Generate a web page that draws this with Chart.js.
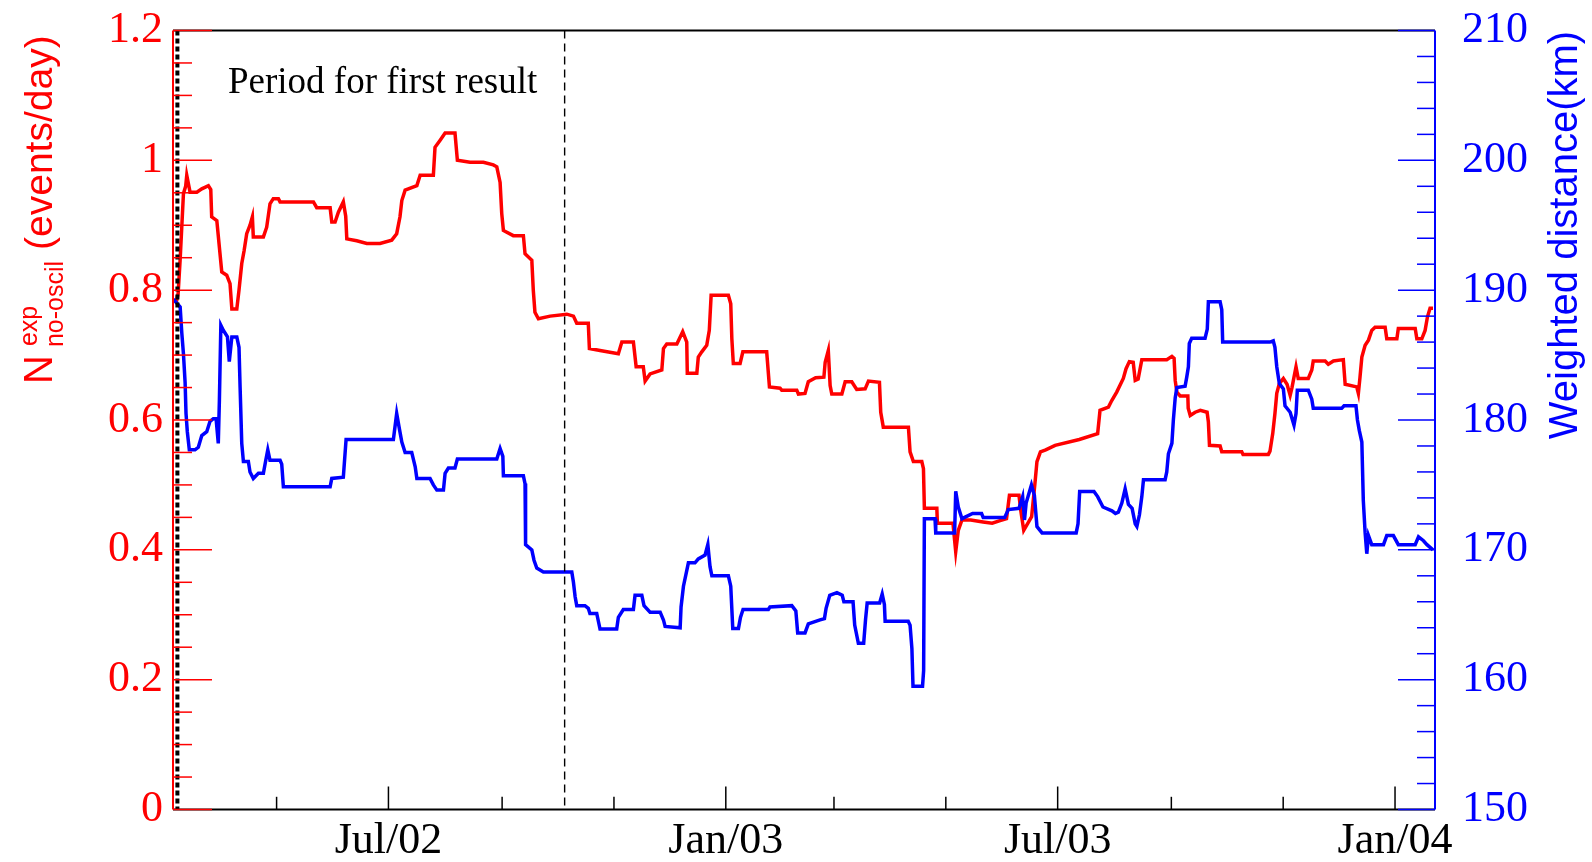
<!DOCTYPE html>
<html>
<head>
<meta charset="utf-8">
<script src="https://cdn.jsdelivr.net/npm/chart.js@4.4.0/dist/chart.umd.min.js"></script>
<style>
  html, body { margin: 0; padding: 0; background: #ffffff; }
  #wrap { width: 1592px; height: 862px; position: relative; }
</style>
</head>
<body>
<div id="wrap"><canvas id="c" width="1592" height="862"></canvas></div>
<script>
// Time axis: days counted from 1 Jan 2002.
const dayMin = 63.5;
const dayMax = 751.8;

// Expected no-oscillation event rate (events/day)
const rateDays = [
  65.2, 66.3, 67.4, 69.2, 70.4, 71.0, 72.8, 76.5, 79.2, 82.8, 84.1, 84.6, 87.4, 88.8, 90.1, 92.8,
  94.6, 95.6, 98.3, 99.5, 101.0, 102.3, 103.7, 105.5, 106.8, 107.3, 112.8, 114.6, 116.4, 118.2, 121.0, 121.9,
  140.1, 141.9, 149.2, 150.1, 151.9, 153.7, 156.4, 157.7, 158.3, 163.7, 169.2, 176.4, 182.8, 185.5, 187.3, 188.3,
  190.1, 196.5, 198.3, 205.5, 206.4, 209.2, 211.9, 217.3, 218.6, 225.5, 232.8, 238.2, 240.1, 241.9, 242.8, 243.7,
  249.1, 254.6, 255.5, 259.2, 260.0, 260.9, 262.8, 269.2, 278.3, 281.9, 283.7, 290.0, 290.6, 296.4, 306.4, 308.3,
  314.6, 316.1, 320.0, 321.0, 323.7, 330.1, 331.0, 332.8, 338.3, 341.5, 343.7, 344.0, 349.2, 350.0, 351.9, 354.6,
  356.0, 357.0, 366.4, 367.7, 368.3, 369.1, 372.8, 374.3, 387.3, 388.8, 394.6, 395.5, 403.7, 404.6, 408.2, 410.0,
  414.0, 418.5, 419.2, 420.9, 421.9, 422.8, 428.3, 430.1, 433.7, 436.4, 441.0, 442.8, 448.8, 449.5, 450.9, 464.6,
  465.5, 467.3, 471.9, 472.8, 473.3, 480.1, 480.4, 488.9, 490.4, 491.8, 493.8, 498.6, 505.3, 510.3, 514.6, 518.1,
  519.7, 524.9, 525.9, 527.5, 531.8, 533.7, 534.7, 536.6, 539.5, 544.6, 557.8, 567.8, 569.1, 573.7, 575.5, 578.2,
  581.8, 583.3, 585.1, 587.2, 588.3, 589.9, 591.9, 605.5, 608.3, 609.5, 610.1, 611.0, 612.8, 617.0, 617.2, 618.3,
  621.0, 623.8, 627.5, 628.2, 628.8, 634.6, 635.5, 646.4, 647.1, 660.9, 661.8, 663.3, 664.5, 665.5, 666.9, 669.1,
  671.1, 672.8, 673.8, 674.9, 676.0, 677.2, 682.7, 684.6, 685.4, 691.9, 693.6, 696.4, 701.8, 702.8, 709.1, 710.0,
  710.9, 711.9, 713.7, 715.5, 717.3, 719.1, 724.6, 725.5, 731.0, 731.8, 741.0, 741.9, 744.6, 746.4, 747.7, 749.1,
  750.7
];
const rateValues = [
  0.780, 0.795, 0.847, 0.949, 0.960, 0.977, 0.951, 0.951, 0.956, 0.961, 0.955, 0.913, 0.907, 0.866, 0.828, 0.823,
  0.810, 0.771, 0.771, 0.800, 0.841, 0.861, 0.887, 0.900, 0.913, 0.882, 0.882, 0.897, 0.933, 0.941, 0.941, 0.936,
  0.936, 0.927, 0.927, 0.905, 0.905, 0.920, 0.936, 0.914, 0.879, 0.876, 0.872, 0.872, 0.877, 0.887, 0.913, 0.938,
  0.954, 0.961, 0.977, 0.977, 1.020, 1.031, 1.042, 1.042, 1.000, 0.997, 0.997, 0.993, 0.990, 0.966, 0.918, 0.892,
  0.884, 0.884, 0.856, 0.846, 0.800, 0.766, 0.756, 0.760, 0.763, 0.760, 0.749, 0.749, 0.710, 0.707, 0.702, 0.720,
  0.720, 0.682, 0.682, 0.660, 0.671, 0.677, 0.710, 0.717, 0.717, 0.736, 0.720, 0.672, 0.672, 0.697, 0.705, 0.715,
  0.738, 0.792, 0.792, 0.779, 0.725, 0.687, 0.687, 0.705, 0.705, 0.651, 0.649, 0.646, 0.646, 0.640, 0.641, 0.659,
  0.665, 0.666, 0.689, 0.707, 0.653, 0.640, 0.640, 0.659, 0.659, 0.647, 0.648, 0.660, 0.658, 0.612, 0.589, 0.589,
  0.551, 0.536, 0.536, 0.525, 0.464, 0.464, 0.441, 0.441, 0.397, 0.430, 0.446, 0.446, 0.443, 0.441, 0.445, 0.448,
  0.484, 0.484, 0.460, 0.430, 0.451, 0.505, 0.536, 0.551, 0.554, 0.561, 0.570, 0.579, 0.615, 0.620, 0.630, 0.643,
  0.664, 0.679, 0.690, 0.689, 0.661, 0.663, 0.693, 0.693, 0.698, 0.695, 0.661, 0.643, 0.637, 0.637, 0.618, 0.607,
  0.612, 0.615, 0.612, 0.597, 0.561, 0.560, 0.551, 0.551, 0.547, 0.547, 0.552, 0.579, 0.610, 0.641, 0.656, 0.664,
  0.655, 0.638, 0.650, 0.666, 0.682, 0.664, 0.664, 0.677, 0.691, 0.691, 0.686, 0.691, 0.693, 0.655, 0.651, 0.641,
  0.666, 0.697, 0.715, 0.723, 0.738, 0.743, 0.743, 0.725, 0.725, 0.741, 0.741, 0.725, 0.725, 0.738, 0.759, 0.772,
  0.772
];

// Flux-weighted reactor distance (km)
const distDays = [
  63.7, 67.4, 68.3, 69.2, 70.1, 70.6, 71.3, 72.4, 75.5, 77.3, 79.2, 81.9, 83.7, 85.5, 87.0, 88.2,
  88.8, 89.6, 91.0, 93.2, 94.2, 95.6, 98.3, 99.5, 100.1, 101.0, 101.9, 104.6, 105.5, 107.3, 110.1, 112.8,
  114.1, 115.2, 116.4, 121.9, 122.8, 123.7, 149.2, 150.1, 156.4, 157.9, 183.7, 185.5, 187.0, 188.3, 190.1, 193.7,
  195.6, 196.5, 203.7, 205.5, 207.4, 211.0, 211.9, 213.7, 217.3, 218.6, 240.1, 241.9, 243.4, 243.7, 254.6, 255.5,
  255.8, 259.2, 260.4, 261.9, 265.5, 281.0, 281.9, 282.8, 283.7, 288.2, 290.0, 290.9, 294.6, 295.5, 296.4, 305.5,
  306.4, 309.1, 314.6, 315.5, 319.2, 320.4, 323.7, 329.2, 331.0, 331.9, 340.1, 340.6, 341.9, 344.6, 348.2, 350.0,
  353.7, 355.2, 356.4, 357.4, 366.4, 367.7, 368.8, 371.9, 373.0, 374.4, 388.2, 389.1, 401.0, 403.2, 404.2, 408.2,
  410.0, 416.4, 418.8, 419.7, 421.7, 425.6, 428.5, 429.4, 434.4, 435.3, 437.3, 440.2, 441.2, 442.1, 448.9, 450.3,
  451.5, 451.9, 464.5, 465.5, 466.5, 467.1, 472.3, 472.9, 473.3, 479.1, 479.5, 489.8, 490.4, 491.8, 493.8, 499.6,
  504.5, 505.4, 517.1, 519.1, 524.9, 526.9, 527.9, 528.8, 531.7, 533.3, 534.7, 537.5, 556.1, 557.1, 558.0, 565.8,
  567.8, 570.7, 575.6, 577.5, 579.1, 581.0, 582.8, 584.6, 586.6, 588.3, 589.2, 590.6, 591.9, 592.8, 604.6, 605.5,
  606.4, 608.3, 609.1, 610.1, 611.0, 615.5, 616.4, 617.3, 617.8, 619.1, 626.4, 627.6, 628.2, 634.6, 635.5, 636.0,
  661.8, 663.6, 664.5, 665.5, 666.9, 669.1, 670.0, 672.8, 674.9, 676.0, 676.7, 682.7, 684.6, 685.4, 700.9, 702.2,
  708.7, 709.5, 710.5, 711.9, 712.7, 713.7, 714.6, 715.5, 717.3, 723.7, 725.5, 729.1, 731.8, 741.0, 742.8, 745.5,
  747.4, 750.7
];
const distValues = [
  189.3, 188.7, 186.7, 185.1, 182.9, 180.5, 179.1, 177.7, 177.7, 177.9, 178.8, 179.1, 179.9, 180.1, 180.1, 178.2,
  181.5, 187.3, 186.9, 186.4, 184.5, 186.4, 186.4, 185.6, 182.5, 178.2, 176.8, 176.8, 176.0, 175.5, 175.9, 175.9,
  176.9, 177.7, 176.9, 176.9, 176.6, 174.85, 174.85, 175.5, 175.6, 178.5, 178.5, 180.5, 179.3, 178.3, 177.5, 177.5,
  176.4, 175.5, 175.5, 175.0, 174.6, 174.6, 175.9, 176.3, 176.3, 177.0, 177.0, 177.8, 177.2, 175.7, 175.7, 175.1,
  170.4, 170.0, 169.2, 168.6, 168.3, 168.3, 167.5, 166.4, 165.7, 165.7, 165.5, 165.1, 165.1, 164.5, 163.9, 163.9,
  164.8, 165.4, 165.4, 166.5, 166.5, 165.7, 165.2, 165.2, 164.6, 164.1, 164.0, 165.6, 167.2, 169.0, 169.0, 169.3,
  169.6, 170.4, 168.7, 168.0, 168.0, 167.2, 163.95, 163.95, 164.8, 165.4, 165.4, 165.6, 165.7, 165.3, 163.6, 163.6,
  164.3, 164.6, 164.7, 165.5, 166.5, 166.7, 166.5, 166.0, 166.0, 164.2, 162.8, 162.8, 164.6, 165.9, 165.9, 166.6,
  165.8, 164.5, 164.5, 164.2, 162.4, 159.5, 159.5, 160.7, 172.4, 172.4, 171.3, 171.3, 174.5, 173.3, 172.4, 172.8,
  172.8, 172.5, 172.5, 173.1, 173.2, 174.1, 172.3, 173.6, 175.0, 174.2, 171.8, 171.3, 171.3, 172.0, 174.5, 174.5,
  174.1, 173.3, 173.0, 172.8, 172.9, 173.6, 174.7, 173.5, 173.2, 172.0, 171.8, 172.7, 174.1, 175.4, 175.4, 176.0,
  177.4, 178.2, 180.0, 181.7, 182.5, 182.6, 183.3, 184.1, 185.9, 186.3, 186.3, 187.0, 189.1, 189.1, 188.5, 186.0,
  186.0, 186.1, 185.6, 184.1, 182.8, 182.4, 181.1, 180.6, 179.6, 180.5, 182.3, 182.3, 181.6, 180.9, 180.9, 181.1,
  181.1, 180.0, 179.2, 178.3, 173.8, 171.3, 169.7, 171.1, 170.4, 170.4, 171.1, 171.1, 170.4, 170.4, 171.0, 170.7,
  170.4, 170.0
];

// Axis ticks
const monthTicks = [181, 365, 546, 730];
const monthLabels = ['Jul/02', 'Jan/03', 'Jul/03', 'Jan/04'];
const minorMonthTicks = [120, 243, 304, 424, 485, 608, 669];
const rateTicks = [0, 0.2, 0.4, 0.6, 0.8, 1, 1.2];
const rateTickLabels = ['0', '0.2', '0.4', '0.6', '0.8', '1', '1.2'];
const distTicks = [150, 160, 170, 180, 190, 200, 210];

// Data-taking start and end of the first-result period
const periodMarks = [65.9, 277.1];
const periodLabel = 'Period for first result';

const RED = '#ff0000';
const BLUE = '#0000ff';
const SERIF = "'Liberation Serif', 'Times New Roman', serif";
const SANS = "'Liberation Sans', Arial, sans-serif";

function toPoints(xs, ys) {
  return xs.map((x, i) => ({ x: x, y: ys[i] }));
}

function seg(ctx, x1, y1, x2, y2) {
  ctx.beginPath();
  ctx.moveTo(x1, y1);
  ctx.lineTo(x2, y2);
  ctx.stroke();
}

// keep the plot frame fixed: no extra room reserved for edge labels
function noEdgePadding(s) {
  s.paddingTop = 0;
  s.paddingBottom = 0;
  s.paddingLeft = 0;
  s.paddingRight = 0;
}

const framePlugin = {
  id: 'frame',
  afterDatasetsDraw(chart) {
    const { ctx, chartArea: a, scales } = chart;
    const sx = scales.x, sl = scales.yL, sr = scales.yR;
    ctx.save();

    // period markers
    ctx.strokeStyle = '#000';
    ctx.setLineDash([5, 3]);
    ctx.lineWidth = 4;
    let px = sx.getPixelForValue(periodMarks[0]);
    seg(ctx, px, a.top, px, a.bottom);
    ctx.setLineDash([8, 5]);
    ctx.lineWidth = 1.4;
    px = sx.getPixelForValue(periodMarks[1]);
    seg(ctx, px, a.top, px, a.bottom);
    ctx.setLineDash([]);

    // black frame top and bottom
    ctx.strokeStyle = '#000';
    ctx.lineWidth = 2;
    seg(ctx, a.left, a.top, a.right, a.top);
    seg(ctx, a.left, a.bottom, a.right, a.bottom);

    // time ticks, drawn inward
    ctx.lineWidth = 1.5;
    monthTicks.forEach(v => {
      const p = sx.getPixelForValue(v);
      seg(ctx, p, a.bottom, p, a.bottom - 23);
    });
    minorMonthTicks.forEach(v => {
      const p = sx.getPixelForValue(v);
      seg(ctx, p, a.bottom, p, a.bottom - 12.7);
    });

    // left axis (rate)
    ctx.strokeStyle = RED;
    ctx.lineWidth = 2;
    seg(ctx, a.left, a.top, a.left, a.bottom);
    ctx.lineWidth = 1.5;
    for (let i = 0; i <= 24; i++) {
      const v = i * 0.05;
      const p = sl.getPixelForValue(v);
      seg(ctx, a.left, p, a.left + (i % 4 === 0 ? 39 : 19), p);
    }

    // right axis (distance)
    ctx.strokeStyle = BLUE;
    ctx.lineWidth = 2;
    seg(ctx, a.right, a.top, a.right, a.bottom);
    ctx.lineWidth = 1.5;
    for (let i = 0; i <= 30; i++) {
      const v = 150 + i * 2;
      const p = sr.getPixelForValue(v);
      seg(ctx, a.right, p, a.right - (i % 5 === 0 ? 37 : 18), p);
    }

    // period caption
    ctx.fillStyle = '#000';
    ctx.font = '37px ' + SERIF;
    ctx.textAlign = 'left';
    ctx.textBaseline = 'alphabetic';
    ctx.fillText(periodLabel, 228, 93);

    // right title
    ctx.save();
    ctx.translate(1577, 235);
    ctx.rotate(-Math.PI / 2);
    ctx.fillStyle = BLUE;
    ctx.font = '40px ' + SANS;
    ctx.textAlign = 'center';
    ctx.fillText('Weighted distance(km)', 0, 0);
    ctx.restore();

    // left title: N with superscript/subscript, then unit
    ctx.save();
    ctx.translate(52, 384);
    ctx.rotate(-Math.PI / 2);
    ctx.fillStyle = RED;
    ctx.textAlign = 'left';
    ctx.font = '40px ' + SANS;
    ctx.fillText('N', 0, 0);
    const nW = ctx.measureText('N').width;
    ctx.font = '25px ' + SANS;
    ctx.fillText('exp', nW + 9, -15);
    ctx.fillText('no-oscil', nW + 8, 11);
    const subW = ctx.measureText('no-oscil').width;
    ctx.font = '39px ' + SANS;
    ctx.fillText('(events/day)', nW + 8 + subW + 11, 0);
    ctx.restore();

    ctx.restore();
  }
};

const ctx = document.getElementById('c').getContext('2d');
new Chart(ctx, {
  type: 'line',
  data: {
    datasets: [
      {
        label: 'Weighted distance',
        data: toPoints(distDays, distValues),
        yAxisID: 'yR',
        borderColor: BLUE,
        borderWidth: 3.5,
        pointRadius: 0,
        tension: 0,
        fill: false,
        borderJoinStyle: 'miter'
      },
      {
        label: 'Expected rate',
        data: toPoints(rateDays, rateValues),
        yAxisID: 'yL',
        borderColor: RED,
        borderWidth: 3.5,
        pointRadius: 0,
        tension: 0,
        fill: false,
        borderJoinStyle: 'miter'
      }
    ]
  },
  options: {
    responsive: false,
    animation: false,
    devicePixelRatio: 1,
    layout: { padding: { top: 30.5, left: 0, right: 0, bottom: 0 } },
    plugins: { legend: { display: false }, tooltip: { enabled: false }, title: { display: false } },
    scales: {
      x: {
        type: 'linear',
        position: 'bottom',
        min: dayMin,
        max: dayMax,
        grid: { display: false, drawTicks: false },
        border: { display: false },
        afterBuildTicks: s => { s.ticks = monthTicks.map(v => ({ value: v })); },
        afterFit: s => { s.height = 52.5; noEdgePadding(s); },
        ticks: {
          autoSkip: false,
          maxRotation: 0,
          minRotation: 0,
          padding: 6,
          color: '#000',
          font: { family: SERIF, size: 44 },
          callback: (v) => {
            const i = monthTicks.indexOf(v);
            return i >= 0 ? monthLabels[i] : '';
          }
        }
      },
      yL: {
        type: 'linear',
        position: 'left',
        min: 0,
        max: 1.2,
        grid: { display: false, drawTicks: false },
        border: { display: false },
        afterBuildTicks: s => { s.ticks = rateTicks.map(v => ({ value: v })); },
        afterFit: s => { s.width = 173; noEdgePadding(s); },
        ticks: {
          padding: 10,
          color: RED,
          font: { family: SERIF, size: 44 },
          callback: (v) => {
            const i = rateTicks.findIndex(t => Math.abs(t - v) < 1e-9);
            return i >= 0 ? rateTickLabels[i] : '';
          }
        }
      },
      yR: {
        type: 'linear',
        position: 'right',
        min: 150,
        max: 210,
        grid: { display: false, drawTicks: false },
        border: { display: false },
        afterBuildTicks: s => { s.ticks = distTicks.map(v => ({ value: v })); },
        afterFit: s => { s.width = 157; noEdgePadding(s); },
        ticks: {
          padding: 27,
          color: BLUE,
          font: { family: SERIF, size: 44 },
          callback: (v) => String(v)
        }
      }
    }
  },
  plugins: [framePlugin]
});
</script>
</body>
</html>
